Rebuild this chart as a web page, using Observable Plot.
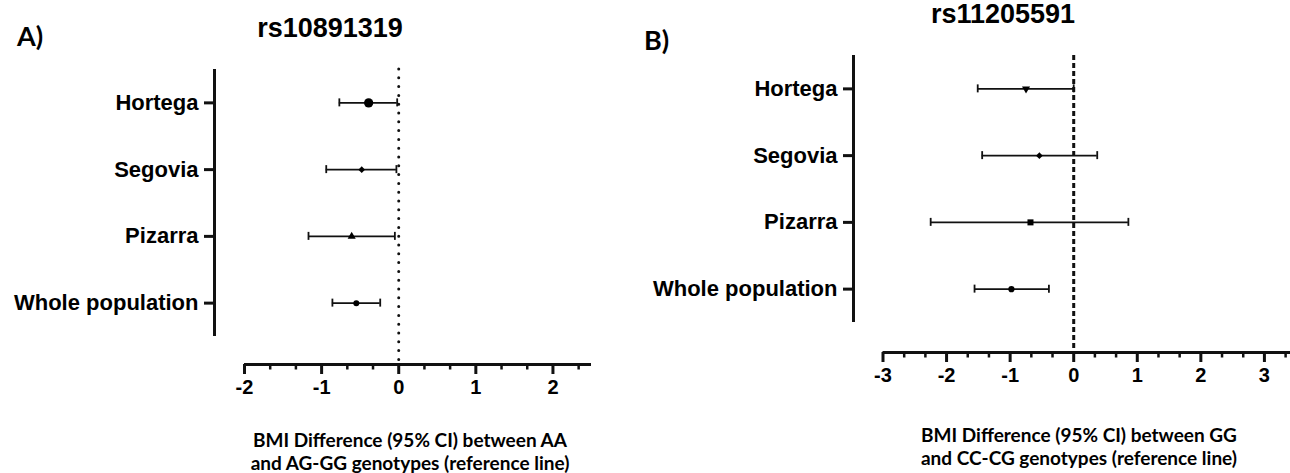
<!DOCTYPE html>
<html><head><meta charset="utf-8">
<script src="https://cdn.jsdelivr.net/npm/d3@7"></script>
<script src="https://cdn.jsdelivr.net/npm/@observablehq/plot@0.6"></script>
<style>
html,body{margin:0;padding:0;background:#fff;}
#wrap{position:relative;width:1290px;height:473px;overflow:hidden;background:#fff;}
#wrap svg{position:absolute;top:0;overflow:visible;}
.t{position:absolute;white-space:nowrap;color:#000;font-weight:bold;}
.title{font-family:"Liberation Sans",Arial,sans-serif;font-size:27px;line-height:27px;text-align:center;width:400px;}
.tag{font-family:Lato,"Open Sans",sans-serif;font-size:27px;line-height:27px;}
.xlab{font-family:Lato,"Open Sans",sans-serif;font-size:19px;line-height:23px;text-align:center;width:440px;}
</style></head><body><div id="wrap"></div>
<script>
// ---- data ----
const categories = ["Hortega", "Segovia", "Pizarra", "Whole population"];

// Panel A: rs10891319
const estA  = [-0.39, -0.48, -0.61, -0.55];
const lowA  = [-0.77, -0.94, -1.17, -0.86];
const highA = [-0.02, -0.03, -0.05, -0.24];
const majorTicksA = [-2, -1, 0, 1, 2];
const minorTicksA = [-5/3, -4/3, -2/3, -1/3, 1/3, 2/3, 4/3, 5/3, 7/3];

// Panel B: rs11205591
const estB  = [-0.75, -0.54, -0.68, -0.98];
const lowB  = [-1.51, -1.44, -2.25, -1.56];
const highB = [0.00, 0.37, 0.86, -0.39];
const majorTicksB = [-3, -2, -1, 0, 1, 2, 3];
const minorTicksB = [-8/3, -7/3, -5/3, -4/3, -2/3, -1/3, 1/3, 2/3, 4/3, 5/3, 7/3, 8/3, 10/3];

const titles = ["rs10891319", "rs11205591"];
const tags = ["A)", "B)"];
const xLabels = [
  ["BMI Difference (95% CI) between AA", "and AG-GG genotypes (reference line)"],
  ["BMI Difference (95% CI) between GG", "and CC-CG genotypes (reference line)"]
];

// ---- styles ----
const INK = "#111";
const markersA = [
  {symbol: "circle", r: 4.6, rotate: 0},
  {symbol: "diamond2", r: 3.0, rotate: 0},
  {symbol: "triangle", r: 3.0, rotate: 0},
  {symbol: "circle", r: 3.0, rotate: 0}
];
const markersB = [
  {symbol: "triangle", r: 3.0, rotate: 180},
  {symbol: "diamond2", r: 3.0, rotate: 0},
  {symbol: "square", r: 3.4, rotate: 0},
  {symbol: "circle", r: 3.1, rotate: 0}
];

function panel(o) {
  const H = 473;
  const n = categories.length;
  const rows = categories.map((c, i) => ({i, c, est: o.est[i], low: o.low[i], high: o.high[i]}));
  const yd = [-0.5, n - 0.5];
  const marks = [
    Plot.ruleX([0], {stroke: INK, strokeWidth: 3, strokeDasharray: o.dash, strokeLinecap: o.cap}),
    Plot.ruleX([o.xDomain[0]], {y1: yd[0], y2: yd[1], dx: -o.gapX, stroke: INK, strokeWidth: 3}),
    Plot.ruleY([yd[1]], {x1: o.xDomain[0], x2: o.xDomain[1], dy: o.gapY, stroke: INK, strokeWidth: 3}),
    Plot.axisX({ticks: o.major, tickFormat: d => String(d), label: null, tickSize: 10, strokeWidth: 3, tickPadding: 5, fontSize: 20, fontWeight: "bold", stroke: INK}),
    Plot.axisX({ticks: o.minor, tickFormat: () => "", label: null, tickSize: 5.5, strokeWidth: 2.5, stroke: INK}),
    Plot.axisY({ticks: d3.range(n), tickFormat: i => categories[i], label: null, tickSize: 10, strokeWidth: 3, tickPadding: 6, fontSize: 22, fontWeight: "bold", stroke: INK}),
    Plot.ruleY(rows, {y: "i", x1: "low", x2: "high", stroke: INK, strokeWidth: 1.8}),
    Plot.ruleX(rows, {x: "low", y1: "i", y2: "i", insetTop: -4, insetBottom: -4, stroke: INK, strokeWidth: 1.8}),
    Plot.ruleX(rows, {x: "high", y1: "i", y2: "i", insetTop: -4, insetBottom: -4, stroke: INK, strokeWidth: 1.8}),
    ...rows.map((d, i) => Plot.dot([d], {x: "est", y: "i", symbol: o.markers[i].symbol, r: o.markers[i].r, rotate: o.markers[i].rotate, fill: "#000", stroke: "none"}))
  ];
  const svg = Plot.plot({
    width: o.width, height: H,
    marginLeft: o.marginLeft, marginRight: o.marginRight,
    marginTop: o.yTop, marginBottom: H - o.yBottom - o.gapY,
    x: {domain: o.xDomain, insetLeft: o.gapX, label: null},
    y: {domain: yd, reverse: true, insetBottom: o.gapY, label: null},
    style: {fontFamily: "'Liberation Sans', Arial, sans-serif", color: "#000", background: "transparent", overflow: "visible"},
    marks
  });
  svg.style.left = o.left + "px";
  return svg;
}

const wrap = document.getElementById("wrap");
wrap.appendChild(panel({
  est: estA, low: lowA, high: highA, major: majorTicksA, minor: minorTicksA,
  xDomain: [-2, 2.5], markers: markersA, dash: "0,8.8", cap: "round",
  left: 0, width: 640, marginLeft: 214, marginRight: 49, gapX: 30, gapY: 28, yTop: 69, yBottom: 336
}));
wrap.appendChild(panel({
  est: estB, low: lowB, high: highB, major: majorTicksB, minor: minorTicksB,
  xDomain: [-3, 3.5], markers: markersB, dash: "5,3", cap: "butt",
  left: 640, width: 660, marginLeft: 213, marginRight: 4.3, gapX: 29.5, gapY: 30, yTop: 55, yBottom: 322
}));

function addText(cls, txt, left, top) {
  const d = document.createElement("div");
  d.className = "t " + cls;
  d.style.left = left + "px";
  d.style.top = top + "px";
  d.innerHTML = txt;
  wrap.appendChild(d);
}
addText("title", titles[0], 330 - 200, 15);
addText("title", titles[1], 1003 - 200, 1);
addText("tag", tags[0], 17, 22);
addText("tag", tags[1], 644, 26);
addText("xlab", xLabels[0].join("<br>"), 410 - 220, 428);
addText("xlab", xLabels[1].join("<br>"), 1079 - 220, 423);
</script>
</body></html>
